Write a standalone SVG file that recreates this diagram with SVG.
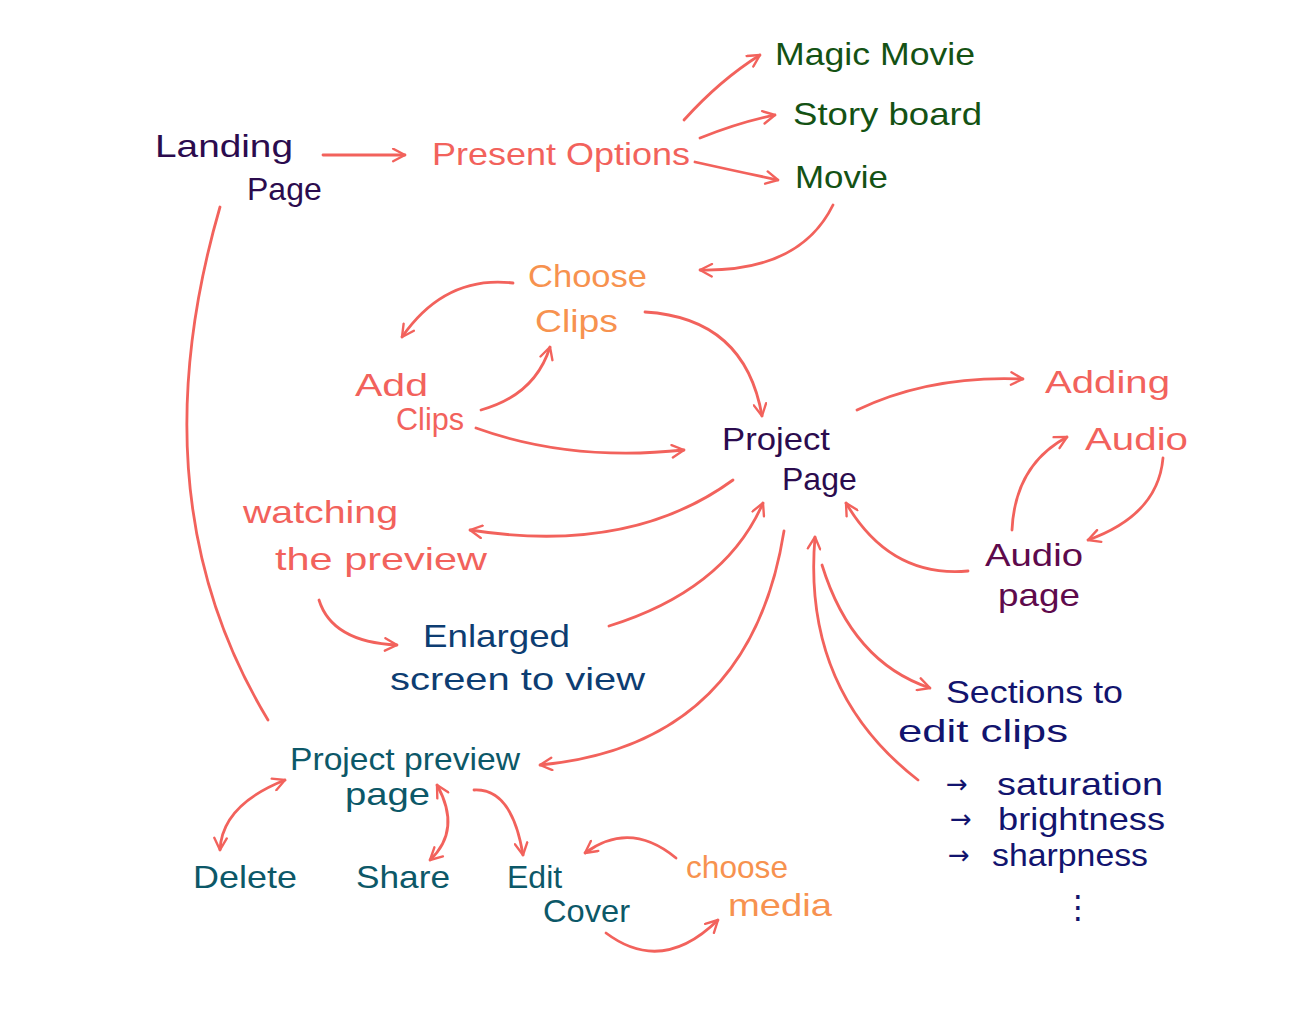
<svg xmlns="http://www.w3.org/2000/svg" width="1308" height="1013" viewBox="0 0 1308 1013">
<defs>
<marker id="ah" viewBox="0 0 12 12" refX="11" refY="6" markerWidth="15" markerHeight="15" markerUnits="userSpaceOnUse" orient="auto-start-reverse">
<path d="M1.5,1 L11,6 L1.5,11" fill="none" stroke="#f2625c" stroke-width="1.9" stroke-linecap="round" stroke-linejoin="round"/>
</marker>
<style>
.c{fill:none;stroke:#f2625c;stroke-width:2.8;stroke-linecap:round}
.a{marker-end:url(#ah)}
.b{marker-start:url(#ah);marker-end:url(#ah)}
text{font-family:"Liberation Sans","DejaVu Sans",sans-serif;font-size:32px}
.ar{font-size:26px;font-family:"DejaVu Sans",sans-serif}
.pur{fill:#2b0b4e}
.red{fill:#f2625c}
.grn{fill:#145214}
.org{fill:#f7924f}
.tea{fill:#0c5868}
.nav{fill:#0d3d72}
.ind{fill:#12146e}
.mar{fill:#5e0a4c}
</style>
</defs>
<rect width="1308" height="1013" fill="#ffffff"/>
<g id="connectors">
<path class="c a" d="M323,155 L405,155"/>
<path class="c a" d="M684,120 Q720,80 760,55"/>
<path class="c a" d="M700,138 Q740,122 775,115"/>
<path class="c a" d="M695,162 Q740,172 778,180"/>
<path class="c a" d="M833,205 Q800,272 700,270"/>
<path class="c a" d="M513,283 Q445,275 402,337"/>
<path class="c a" d="M481,410 Q535,395 550,347"/>
<path class="c a" d="M645,312 Q745,318 762,416"/>
<path class="c a" d="M476,428 Q570,462 684,450"/>
<path class="c a" d="M857,410 Q930,375 1023,379"/>
<path class="c a" d="M1012,530 Q1015,465 1067,437"/>
<path class="c a" d="M1163,458 Q1158,515 1088,540"/>
<path class="c a" d="M968,571 Q890,578 846,503"/>
<path class="c a" d="M733,480 Q630,555 470,530"/>
<path class="c a" d="M319,600 Q332,642 397,645"/>
<path class="c a" d="M609,626 Q725,590 763,503"/>
<path class="c a" d="M784,531 Q750,745 540,765"/>
<path class="c a" d="M822,565 Q852,662 930,688"/>
<path class="c a" d="M918,780 Q802,690 815,537"/>
<path class="c" d="M268,720 Q135,500 220,207"/>
<path class="c b" d="M285,780 Q222,805 220,850"/>
<path class="c b" d="M437,785 Q462,830 430,860"/>
<path class="c a" d="M474,790 Q512,788 523,855"/>
<path class="c a" d="M676,858 Q630,820 585,853"/>
<path class="c a" d="M606,933 Q662,975 718,920"/>
</g>
<g id="landing-page"><text class="pur" x="155" y="157" textLength="138" lengthAdjust="spacingAndGlyphs">Landing</text><text class="pur" x="247" y="200" font-size="30">Page</text></g>
<g id="present-options"><text class="red" x="432" y="165" textLength="258" lengthAdjust="spacingAndGlyphs">Present Options</text></g>
<g id="magic-movie"><text class="grn" x="775" y="65" textLength="200" lengthAdjust="spacingAndGlyphs">Magic Movie</text></g>
<g id="story-board"><text class="grn" x="793" y="125" textLength="189" lengthAdjust="spacingAndGlyphs">Story board</text></g>
<g id="movie"><text class="grn" x="795" y="188" textLength="93" lengthAdjust="spacingAndGlyphs">Movie</text></g>
<g id="choose-clips"><text class="org" x="528" y="287" textLength="119" lengthAdjust="spacingAndGlyphs">Choose</text><text class="org" x="535" y="332" textLength="83" lengthAdjust="spacingAndGlyphs">Clips</text></g>
<g id="add-clips"><text class="red" x="355" y="396" textLength="73" lengthAdjust="spacingAndGlyphs">Add</text><text class="red" x="396" y="430" textLength="68" lengthAdjust="spacingAndGlyphs">Clips</text></g>
<g id="project-page"><text class="pur" x="722" y="450" textLength="108" lengthAdjust="spacingAndGlyphs">Project</text><text class="pur" x="782" y="490" font-size="30">Page</text></g>
<g id="adding-audio"><text class="red" x="1045" y="393" textLength="125" lengthAdjust="spacingAndGlyphs">Adding</text><text class="red" x="1085" y="450" textLength="103" lengthAdjust="spacingAndGlyphs">Audio</text></g>
<g id="audio-page"><text class="mar" x="985" y="566" textLength="98" lengthAdjust="spacingAndGlyphs">Audio</text><text class="mar" x="998" y="606" textLength="82" lengthAdjust="spacingAndGlyphs" font-size="30">page</text></g>
<g id="watching-preview"><text class="red" x="243" y="523" textLength="155" lengthAdjust="spacingAndGlyphs">watching</text><text class="red" x="275" y="570" textLength="212" lengthAdjust="spacingAndGlyphs">the preview</text></g>
<g id="enlarged-screen"><text class="nav" x="423" y="647" textLength="147" lengthAdjust="spacingAndGlyphs">Enlarged</text><text class="nav" x="390" y="690" textLength="255" lengthAdjust="spacingAndGlyphs">screen to view</text></g>
<g id="sections-edit"><text class="ind" x="946" y="703" textLength="177" lengthAdjust="spacingAndGlyphs">Sections to</text><text class="ind" x="898" y="742" textLength="170" lengthAdjust="spacingAndGlyphs">edit clips</text>
<text class="ind ar" x="946" y="793">→</text><text class="ind" x="997" y="795" textLength="166" lengthAdjust="spacingAndGlyphs">saturation</text>
<text class="ind ar" x="950" y="828">→</text><text class="ind" x="998" y="830" textLength="167" lengthAdjust="spacingAndGlyphs">brightness</text>
<text class="ind ar" x="948" y="864">→</text><text class="ind" x="992" y="866" textLength="156" lengthAdjust="spacingAndGlyphs">sharpness</text>
<text class="ind" x="1062" y="918">⋮</text></g>
<g id="project-preview-page"><text class="tea" x="290" y="770" textLength="230" lengthAdjust="spacingAndGlyphs">Project preview</text><text class="tea" x="345" y="805" textLength="85" lengthAdjust="spacingAndGlyphs">page</text></g>
<g id="delete"><text class="tea" x="193" y="888" textLength="104" lengthAdjust="spacingAndGlyphs">Delete</text></g>
<g id="share"><text class="tea" x="356" y="888" textLength="94" lengthAdjust="spacingAndGlyphs">Share</text></g>
<g id="edit-cover"><text class="tea" x="507" y="888">Edit</text><text class="tea" x="543" y="922" textLength="87" lengthAdjust="spacingAndGlyphs">Cover</text></g>
<g id="choose-media"><text class="org" x="686" y="878" textLength="102" lengthAdjust="spacingAndGlyphs">choose</text><text class="org" x="728" y="916" textLength="104" lengthAdjust="spacingAndGlyphs">media</text></g>
</svg>
